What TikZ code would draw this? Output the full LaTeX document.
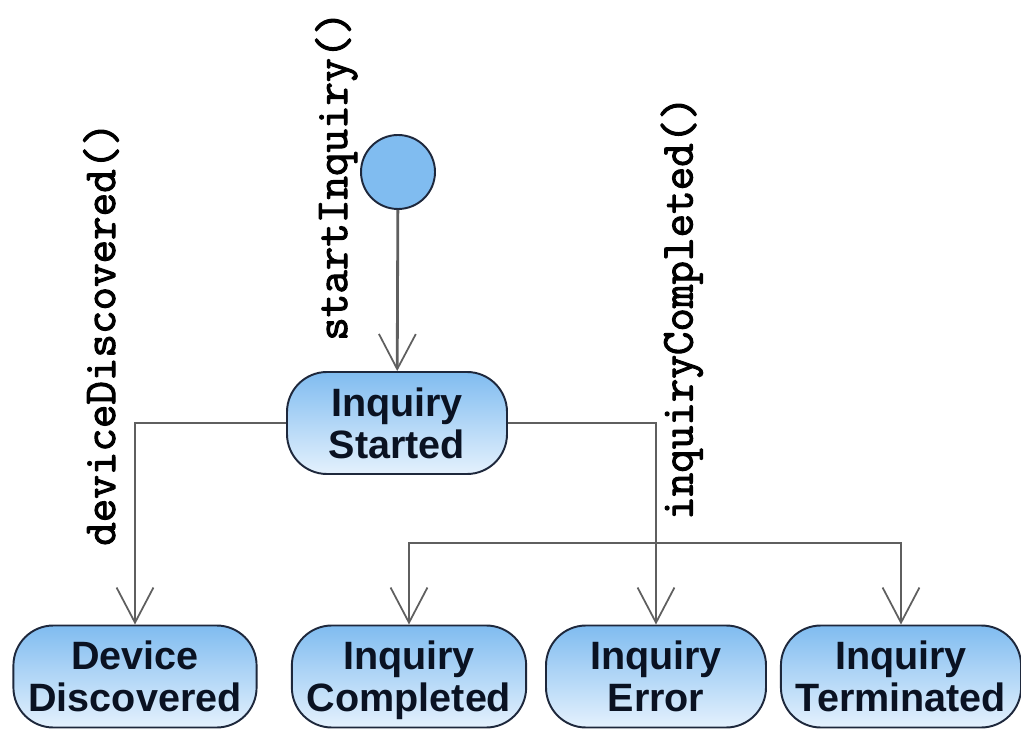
\documentclass[tikz,border=0pt]{standalone}
\usepackage{fontspec}
\setsansfont{Liberation Sans}
\newfontfamily\callfont{Latin Modern Mono}[FakeBold=2.2]
\usetikzlibrary{arrows.meta}

\definecolor{stateblue}{RGB}{128,188,240}
\definecolor{statepale}{RGB}{228,241,253}
\definecolor{stateedge}{RGB}{30,40,60}
\definecolor{stateink}{RGB}{10,18,34}
\definecolor{wire}{RGB}{95,95,95}

\begin{document}
\begin{tikzpicture}[
        state/.style={draw=stateedge, line width=1.1pt, rounded corners=0.8cm,
            top color=stateblue, bottom color=statepale, text=stateink,
            minimum width=4.4cm, minimum height=2.04cm, inner xsep=0.3cm,
            text depth=0pt, align=center,
            font=\sffamily\bfseries\fontsize{22.5}{24}\selectfont},
        initial/.style={circle, draw=stateedge, line width=1.1pt, fill=stateblue,
            minimum size=1.48cm},
        flow/.style={draw=wire, line width=1.6pt,
            -{Straight Barb[length=20pt, width=21pt, line width=1pt]}},
        call/.style={rotate=90, anchor=base, inner sep=0pt,
            font=\callfont\fontsize{26}{26}\selectfont}
    ]
        \useasboundingbox (0,0) rectangle (20.42,14.58);

        \node[initial] (init) at (7.96,11.14) {};
        \node[state] (started) at (7.94,6.12) {Inquiry\\Started};

        \node[state] (devdisc) at (2.70,1.05) {Device\\Discovered};
        \node[state] (inqcomp) at (8.18,1.05) {Inquiry\\Completed};
        \node[state] (inqerr) at (13.12,1.05) {Inquiry\\Error};
        \node[state] (inqterm) at (18.02,1.05) {Inquiry\\Terminated};

        \coordinate (fork) at (inqerr.north |- 0,3.72);

        \draw[flow] (init) -- (started);
        \draw[flow] (started.west) -| (devdisc.north);
        \draw[flow] (started.east) -| (inqerr.north);
        \draw[flow] (fork) -| (inqcomp.north);
        \draw[flow] (fork) -| (inqterm.north);

        \node[call] at (6.94,11.06) {startInquiry()};
        \node[call] at (2.30,7.90) {deviceDiscovered()};
        \node[call] at (13.85,8.42) {inquiryCompleted()};
    \end{tikzpicture}
\end{document}
